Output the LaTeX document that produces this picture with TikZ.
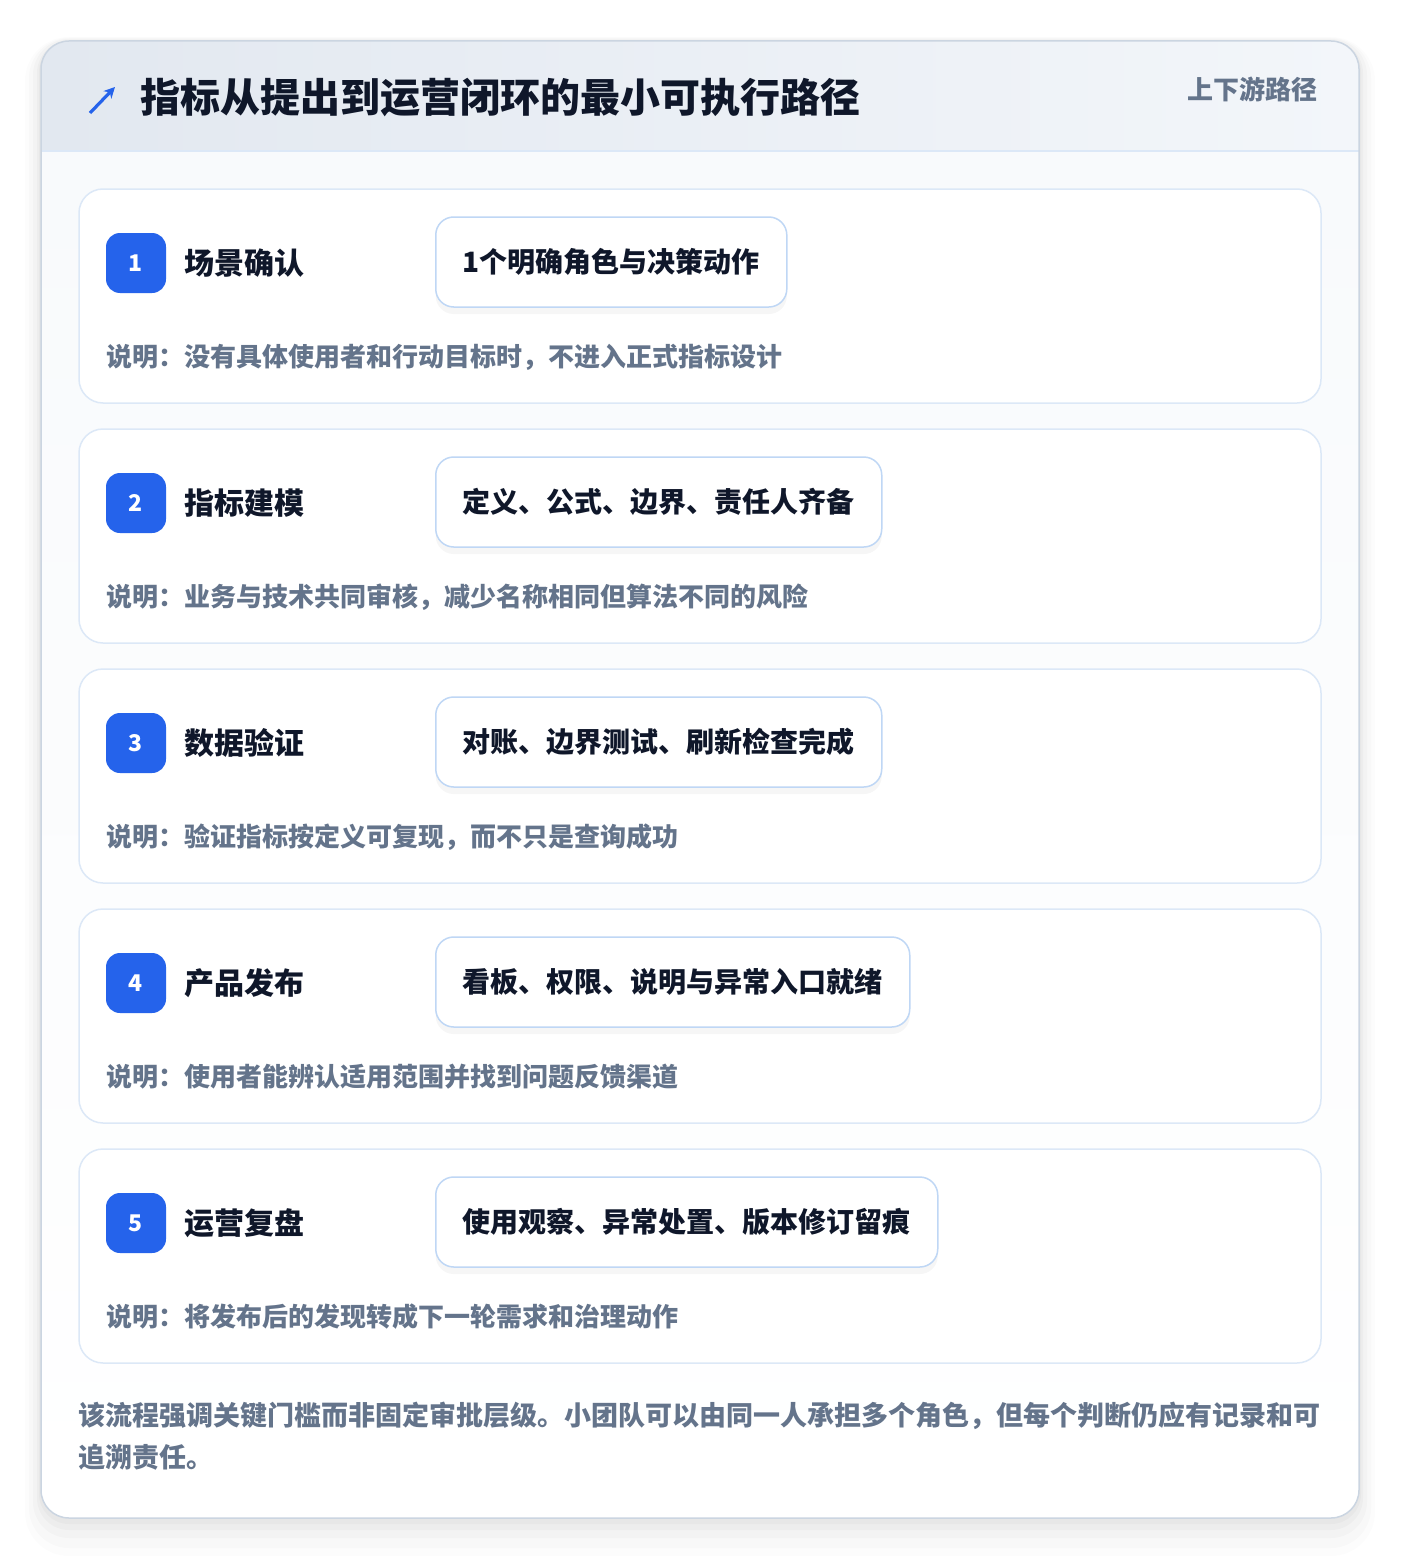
\documentclass[tikz,border=0pt]{standalone}
\usepackage{fontspec}
\setmainfont{Noto Sans CJK SC}
\usepackage{tikz}
\usetikzlibrary{positioning,shadows,calc,arrows.meta}
\definecolor{brandblue}{HTML}{2563EB}
\definecolor{inkdark}{HTML}{0F172A}
\definecolor{slatetext}{HTML}{64748B}
\definecolor{frameline}{HTML}{CBD5E1}
\definecolor{cardline}{HTML}{DCE8F7}
\definecolor{pillline}{HTML}{BFD7F5}
\definecolor{headleft}{HTML}{E2E8F0}
\definecolor{headright}{HTML}{F3F6FA}
\definecolor{bodybg}{HTML}{F8FAFC}
\tikzset{
  stepcard/.style={draw=cardline, line width=1.5pt, fill=white, rounded corners=24pt},
  badge/.style={fill=brandblue, text=white, rounded corners=14pt, minimum size=60pt, inner sep=0pt, font=\fontsize{23}{26}\selectfont\bfseries},
  steptitle/.style={text=inkdark, inner sep=0pt, font=\fontsize{30}{36}\selectfont\bfseries},
  pill/.style={draw=pillline, line width=1.5pt, fill=white, rounded corners=18pt, minimum height=90pt, inner xsep=27pt, text=inkdark, font=\fontsize{28}{34}\selectfont\bfseries, drop shadow={opacity=0.07, shadow xshift=0pt, shadow yshift=-7pt}},
  note/.style={text=slatetext, inner sep=0pt, font=\fontsize{26}{32}\selectfont\bfseries}
}
\def\stepcard#1#2#3#4#5{% Syntax: {number}{top y}{title}{target}{note}
  \draw[stepcard] (79,#2) rectangle (1321,{#2+214});
  \node[badge] (badge#1) at (136,{#2+74}) {#1};
  \node[steptitle, anchor=west] (title#1) at (184,{#2+74}) {#3};
  \node[pill, anchor=west] (pill#1) at (435,{#2+73}) {#4};
  \node[note, anchor=west] (note#1) at (106,{#2+168}) {#5};
}

\begin{document}
\begin{tikzpicture}[x=1pt, y=-1pt]
    \useasboundingbox (0,0) rectangle (1400,1560);
    \fill[white] (0,0) rectangle (1400,1560);
    
    %shadow
    \fill[black, opacity=0.012, rounded corners=44pt] (25,37) rectangle (1375,1556);
    \fill[black, opacity=0.015, rounded corners=40pt] (29,38) rectangle (1371,1548);
    \fill[black, opacity=0.02, rounded corners=36pt] (33,39) rectangle (1367,1538);
    \fill[black, opacity=0.025, rounded corners=32pt] (37,41) rectangle (1363,1530);
    \fill[black, opacity=0.025, rounded corners=30pt] (39,42) rectangle (1361,1524);
    
    %frame
    \fill[bodybg, rounded corners=28pt] (41,41) rectangle (1359,1518);
    \begin{scope}
    \clip[rounded corners=28pt] (41,41) rectangle (1359,1518);
    \shade[left color=headleft, right color=headright] (41,41) rectangle (1359,151);
    \shade[top color=bodybg, bottom color=white] (41,151) rectangle (1359,1518);
    \end{scope}
    \draw[cardline, line width=1.5pt] (41,151) -- (1359,151);
    \draw[frameline, line width=1.5pt, rounded corners=28pt] (41,41) rectangle (1359,1518);
    
    %header
    \draw[brandblue, line width=3.2pt, -{Stealth[length=11pt, width=11pt]}] (90,113) -- (115,87);
    \node[text=inkdark, inner sep=0pt, anchor=west, font=\fontsize{40}{48}\selectfont\bfseries] (heading) at (140,98) {指标从提出到运营闭环的最小可执行路径};
    \node[text=slatetext, inner sep=0pt, anchor=east, font=\fontsize{26}{32}\selectfont\bfseries] (tag) at (1318,89) {上下游路径};
    
    %steps
    \stepcard{1}{189}{场景确认}{1个明确角色与决策动作}{说明：没有具体使用者和行动目标时，不进入正式指标设计}
    \stepcard{2}{429}{指标建模}{定义、公式、边界、责任人齐备}{说明：业务与技术共同审核，减少名称相同但算法不同的风险}
    \stepcard{3}{669}{数据验证}{对账、边界测试、刷新检查完成}{说明：验证指标按定义可复现，而不只是查询成功}
    \stepcard{4}{909}{产品发布}{看板、权限、说明与异常入口就绪}{说明：使用者能辨认适用范围并找到问题反馈渠道}
    \stepcard{5}{1149}{运营复盘}{使用观察、异常处置、版本修订留痕}{说明：将发布后的发现转成下一轮需求和治理动作}
    
    %footer
    \node[note, anchor=north west, align=left, font=\fontsize{27}{42}\selectfont\bfseries] (footer) at (78,1402) {该流程强调关键门槛而非固定审批层级。小团队可以由同一人承担多个角色，但每个判断仍应有记录和可\\追溯责任。};
\end{tikzpicture}
\end{document}
